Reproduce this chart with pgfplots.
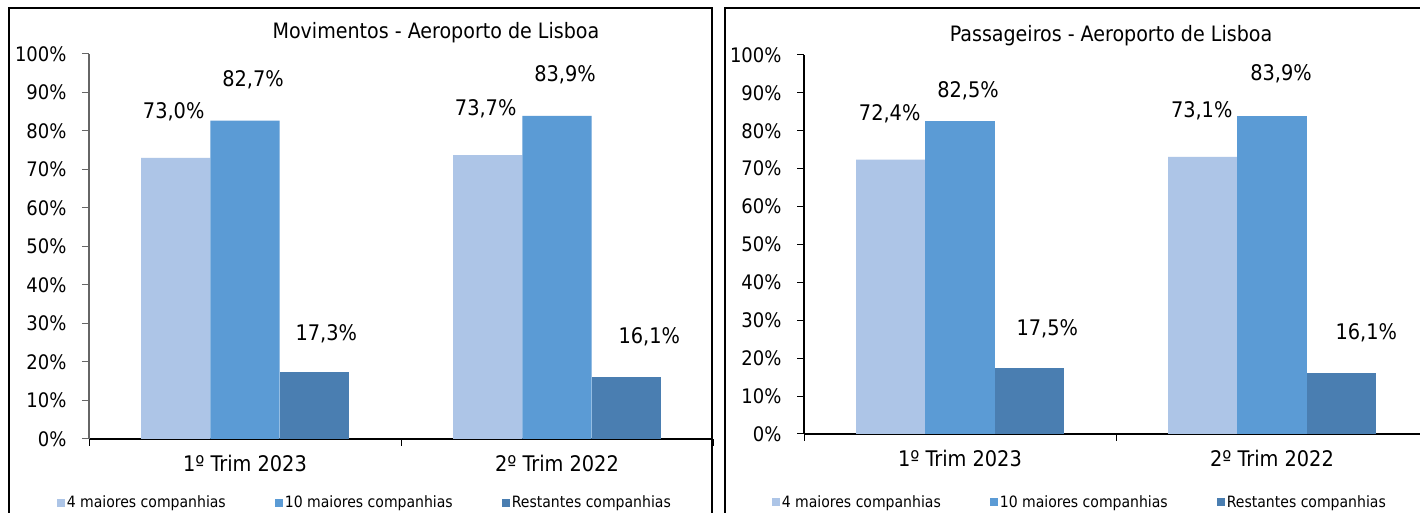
\documentclass[border=0pt]{standalone}
\usepackage{fontspec}
\setmainfont{DejaVu Sans Condensed}
\usepackage{pgfplots}
\pgfplotsset{compat=1.18}
\definecolor{cA}{RGB}{173,197,231}
\definecolor{cB}{RGB}{91,155,213}
\definecolor{cC}{RGB}{74,126,177}
\pgfplotsset{
 mybar/.style={
  scale only axis, width=624pt, xmin=-0.5, xmax=1.5, ymin=0, ymax=100,
  axis x line=bottom, axis y line=left, axis line style={-, line width=1.2pt, black},
  ytick={0,10,...,100}, yticklabel={\pgfmathprintnumber{\tick}\%},
  xtick={-0.5,0.5,1.5}, xticklabels={},
  extra x ticks={0,1}, extra x tick labels={1º Trim 2023, 2º Trim 2022},
  extra x tick style={major tick length=0pt, tick label style={yshift=-13pt, font=\fontsize{21.5}{25}\selectfont}},
  tick align=outside, major tick length=7pt, tick style={black, line width=1pt},
  /pgf/number format/assume math mode=true,
  ybar, bar width=69.3pt,
  nodes near coords={\pgfmathprintnumber[fixed,fixed zerofill,precision=1,use comma]{\pgfplotspointmeta}\%},
  every node near coord/.append style={anchor=center, font=\fontsize{21.5}{25}\selectfont, text=black},
  tick label style={font=\fontsize{20}{24}\selectfont},
  yticklabel style={xshift=-12pt},
  title style={font=\fontsize{21.2}{25}\selectfont, anchor=center},
  legend style={font=\fontsize{15.6}{18}\selectfont, draw=none, fill=none, legend columns=3, anchor=center,
    /tikz/every even column/.append style={column sep=47pt}},
  legend image code/.code={\path[#1] (0pt,-4pt) rectangle (8pt,4pt);},
 }}
\begin{document}
\begin{tikzpicture}
\path[use as bounding box] (0pt,0pt) rectangle (1420pt,513pt);
\clip (0pt,0pt) rectangle (1420pt,513pt);
\fill[white] (0pt,0pt) rectangle (1420pt,513pt);
\draw[line width=2pt] (9pt,-10pt) -- (9pt,505pt) -- (712pt,505pt) -- (712pt,-10pt);
\draw[line width=2pt] (725pt,-10pt) -- (725pt,505pt) -- (1430pt,505pt);
\begin{axis}[mybar, height=385pt, at={(89pt,74pt)}, anchor=south west,
  y axis line style={gray!80!black}, ytick style={gray!80!black},
  title={Movimentos - Aeroporto de Lisboa}, title style={at={(0.556,1.041)}},
  legend style={at={(0.442,-0.165)}}]
\addplot[fill=cA, draw=none, bar shift=-69.3pt, every node near coord/.append style={yshift=46pt, xshift=-2pt}] coordinates {(0,73.0) (1,73.7)};
\addplot[fill=cB, draw=none, bar shift=0pt, every node near coord/.append style={yshift=41pt, xshift=8pt}] coordinates {(0,82.7) (1,83.9)};
\addplot[fill=cC, draw=none, bar shift=69.3pt, every node near coord/.append style={yshift=39pt, xshift=12pt}] coordinates {(0,17.3)};
\addplot[fill=cC, draw=none, bar shift=69.3pt, forget plot, every node near coord/.append style={yshift=40pt, xshift=23pt}] coordinates {(1,16.1)};
\legend{4 maiores companhias, 10 maiores companhias, Restantes companhias}
\end{axis}
\begin{axis}[mybar, height=379pt, at={(804pt,79pt)}, anchor=south west,
  title={Passageiros - Aeroporto de Lisboa}, title style={at={(0.492,1.034)}},
  legend style={at={(0.442,-0.18)}}]
\addplot[fill=cA, draw=none, bar shift=-69.3pt, every node near coord/.append style={yshift=46pt, xshift=-1pt}] coordinates {(0,72.4) (1,73.1)};
\addplot[fill=cB, draw=none, bar shift=0pt, every node near coord/.append style={yshift=31pt, xshift=8pt}] coordinates {(0,82.5)};
\addplot[fill=cC, draw=none, bar shift=69.3pt, every node near coord/.append style={yshift=39pt, xshift=18pt}] coordinates {(0,17.5)};
\addplot[fill=cB, draw=none, bar shift=0pt, forget plot, every node near coord/.append style={yshift=42pt, xshift=9pt}] coordinates {(1,83.9)};
\addplot[fill=cC, draw=none, bar shift=69.3pt, forget plot, every node near coord/.append style={yshift=40pt, xshift=25pt}] coordinates {(1,16.1)};
\legend{4 maiores companhias, 10 maiores companhias, Restantes companhias}
\end{axis}
\end{tikzpicture}
\end{document}
